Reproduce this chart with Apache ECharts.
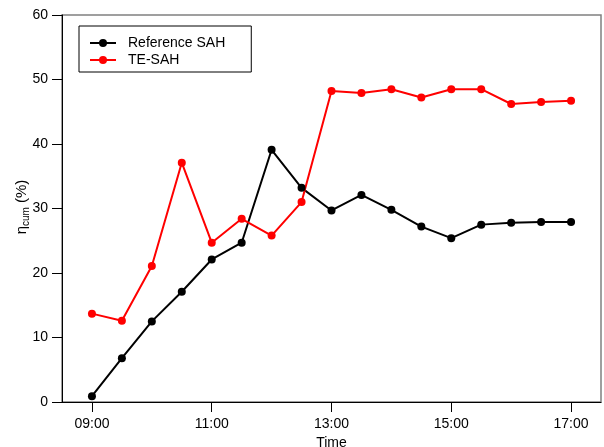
<!DOCTYPE html>
<html>
<head>
<meta charset="utf-8">
<script src="https://cdn.jsdelivr.net/npm/echarts@6/dist/echarts.min.js"></script>
<style>
html,body{margin:0;padding:0;background:#fff;}
#chart{width:604px;height:447px;}
</style>
</head>
<body>
<div id="chart"></div>
<script>
// Time of day in hours
var times = [9, 9.5, 10, 10.5, 11, 11.5, 12, 12.5, 13, 13.5, 14, 14.5, 15, 15.5, 16, 16.5, 17];
var referenceSAH = [0.9, 6.8, 12.5, 17.1, 22.1, 24.7, 39.1, 33.2, 29.7, 32.1, 29.8, 27.2, 25.4, 27.5, 27.8, 27.9, 27.9];
var teSAH = [13.7, 12.6, 21.1, 37.1, 24.7, 28.4, 25.8, 31.0, 48.2, 47.9, 48.5, 47.2, 48.5, 48.5, 46.2, 46.5, 46.7];
var xTickValues = [9, 11, 13, 15, 17];
var yTickLabels = ['0', '10', '20', '30', '40', '50', '60'];

function pairs(xs, ys) { return xs.map(function (x, i) { return [x, ys[i]]; }); }
function fmtHour(v) { var h = Math.floor(v); var m = Math.round((v - h) * 60); return (h < 10 ? '0' : '') + h + ':' + (m < 10 ? '0' : '') + m; }

var font = 'Liberation Sans, Arial, sans-serif';
var chart = echarts.init(document.getElementById('chart'), null, {renderer: 'canvas'});
chart.setOption({
  animation: false,
  backgroundColor: '#fff',
  textStyle: {fontFamily: font},
  grid: {left: 62, right: 3, top: 15, bottom: 45, outerBoundsMode: 'none', containLabel: false,
         show: true, borderColor: '#808080', borderWidth: 1.5, backgroundColor: 'transparent'},
  legend: {
    orient: 'vertical', left: 79, top: 26,
    padding: [10, 26, 5, 10],
    borderColor: '#000', borderWidth: 1,
    itemWidth: 26, itemHeight: 10, itemGap: 3,
    textStyle: {fontFamily: font, fontSize: 14, color: '#000', lineHeight: 14, padding: [0, 0, 0, 7]},
    data: ['Reference SAH', 'TE-SAH']
  },
  xAxis: {
    type: 'value', min: 8.5, max: 17.5,
    name: 'Time', nameLocation: 'middle', nameGap: 31,
    nameTextStyle: {fontFamily: font, fontSize: 14, color: '#000'},
    axisLine: {show: true, onZero: false, lineStyle: {color: '#000', width: 1}},
    axisTick: {show: true, customValues: xTickValues, length: 10, lineStyle: {color: '#000'}},
    axisLabel: {customValues: xTickValues, margin: 15, fontFamily: font, fontSize: 14, color: '#000', formatter: function (v) { return fmtHour(v); }},
    splitLine: {show: false}
  },
  yAxis: {
    type: 'value', min: 0, max: 60, interval: 10,
    axisLine: {show: true, lineStyle: {color: '#000', width: 1}},
    axisTick: {show: true, length: 10, lineStyle: {color: '#000'}},
    axisLabel: {margin: 14, fontFamily: font, fontSize: 14, color: '#000', formatter: function (v) { return yTickLabels[Math.round(v / 10)]; }},
    splitLine: {show: false}
  },
  graphic: [{
    type: 'text', x: 22, y: 207, rotation: Math.PI / 2,
    style: {
      text: '{a|η}{b|cum}{a| (%)}',
      align: 'center', verticalAlign: 'middle',
      rich: {
        a: {fontFamily: font, fontSize: 15, fill: '#000'},
        b: {fontFamily: font, fontSize: 10, fill: '#000', padding: [9, 0, 0, 0]}
      }
    }
  }],
  series: [
    {name: 'Reference SAH', type: 'line', data: pairs(times, referenceSAH), symbol: 'circle', symbolSize: 8,
     itemStyle: {color: '#000'}, lineStyle: {color: '#000', width: 2}},
    {name: 'TE-SAH', type: 'line', data: pairs(times, teSAH), symbol: 'circle', symbolSize: 8,
     itemStyle: {color: '#ff0000'}, lineStyle: {color: '#ff0000', width: 2}}
  ]
});
</script>
</body>
</html>
